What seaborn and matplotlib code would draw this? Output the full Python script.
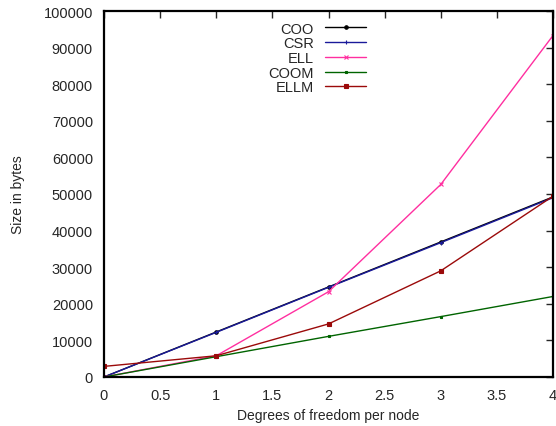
import matplotlib
matplotlib.use("Agg")
import matplotlib.pyplot as plt
import seaborn as sns
import pandas as pd

dof = [0, 1, 2, 3, 4]
coo = [0, 12300, 24600, 36900, 49200]
csr = [0, 12200, 24500, 36700, 49000]
ell = [0, 5800, 23300, 52600, 93300]
coom = [0, 5550, 11100, 16500, 22000]
ellm = [2900, 5800, 14500, 29000, 49400]

series = {"COO": coo, "CSR": csr, "ELL": ell, "COOM": coom, "ELLM": ellm}
colors = {"COO": "#000000", "CSR": "#1a1a9a", "ELL": "#ff2fa0", "COOM": "#006400", "ELLM": "#9b0a0a"}
markers = {"COO": "o", "CSR": "+", "ELL": "x", "COOM": "s", "ELLM": "s"}
msizes = {"COO": 2.5, "CSR": 3, "ELL": 3, "COOM": 2, "ELLM": 3}

rows = []
for name, vals in series.items():
    for x, v in zip(dof, vals):
        rows.append({"dof": x, "size": v, "format": name})
df = pd.DataFrame(rows)

sns.set_style("white")
plt.rcParams["font.family"] = ["Liberation Sans", "DejaVu Sans"]

fig = plt.figure(figsize=(5.56, 4.27), dpi=100)
ax = fig.add_axes([104/556, 1-378/427, (553-104)/556, (378-12)/427])

for name in series:
    sub = df[df["format"] == name]
    sns.lineplot(data=sub, x="dof", y="size", ax=ax, color=colors[name],
                 marker=markers[name], markersize=msizes[name], linewidth=1.0,
                 label=name, markeredgewidth=0.8, markeredgecolor=colors[name])

ax.set_xlim(0, 4)
ax.set_ylim(0, 100000)
ax.set_xticks([0, 0.5, 1, 1.5, 2, 2.5, 3, 3.5, 4])
ax.set_xticklabels(["0", "0.5", "1", "1.5", "2", "2.5", "3", "3.5", "4"])
ax.set_yticks(range(0, 100001, 10000))
ax.set_yticklabels([str(v) for v in range(0, 100001, 10000)])
ax.tick_params(direction="in", length=5, width=1, labelsize=10.5, top=True, right=True,
               labeltop=False, labelright=False, pad=8)
for s in ax.spines.values():
    s.set_linewidth(1.6)
    s.set_color("black")
ax.set_xlabel("Degrees of freedom per node", fontsize=10)
ax.set_ylabel("Size in bytes", fontsize=10, labelpad=13)

leg = ax.legend(loc="upper center", bbox_to_anchor=(0.475, 0.995), frameon=False,
                markerfirst=False, fontsize=10.5, handlelength=2.8, labelspacing=0.05,
                handletextpad=0.8, borderaxespad=0.2)
for t in leg.get_texts():
    t.set_ha("right")

fig.savefig("out.png", dpi=100)
